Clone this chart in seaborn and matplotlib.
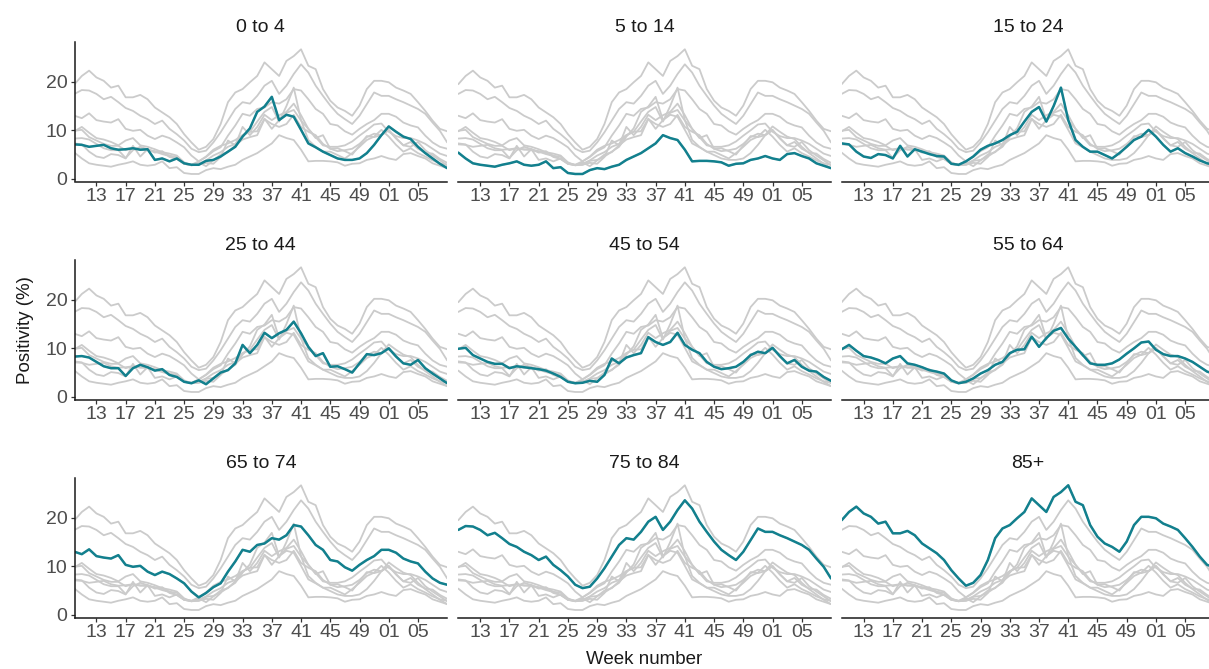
import matplotlib
matplotlib.use("Agg")
import matplotlib.pyplot as plt
import numpy as np
import pandas as pd
import seaborn as sns

# Continuous week index: 10..52 is the first year, 53 = week 01 of the next year, etc.
weeks = list(range(10, 62))
tick_weeks = [13, 17, 21, 25, 29, 33, 37, 41, 45, 49, 53, 57]
tick_labels = ["13", "17", "21", "25", "29", "33", "37", "41", "45", "49", "01", "05"]
y_ticks = [0, 10, 20]

age_groups = ["0 to 4", "5 to 14", "15 to 24",
              "25 to 44", "45 to 54", "55 to 64",
              "65 to 74", "75 to 84", "85+"]

pos_0_4 = [7.1, 7.0, 6.6, 6.8, 7.0, 6.3, 6.0, 6.1, 6.3, 6.0,
           6.1, 3.9, 4.2, 3.6, 4.2, 3.2, 2.9, 2.9, 3.7, 3.9,
           4.6, 5.6, 6.6, 8.7, 10.4, 13.8, 14.9, 16.9, 12.1, 13.2,
           12.8, 10.1, 7.3, 6.5, 5.6, 4.9, 4.2, 3.9, 3.9, 4.2,
           5.3, 7.0, 9.0, 10.8, 9.7, 8.7, 8.2, 6.6, 5.3, 4.2,
           3.1, 2.2]
pos_5_14 = [5.4, 4.2, 3.2, 2.9, 2.7, 2.5, 2.9, 3.2, 3.6, 2.9,
            2.7, 2.9, 3.6, 2.2, 2.4, 1.2, 1.0, 1.0, 1.8, 2.2,
            2.0, 2.5, 2.9, 3.9, 4.6, 5.3, 6.3, 7.3, 9.0, 8.4,
            8.0, 6.0, 3.6, 3.7, 3.7, 3.6, 3.4, 2.7, 3.1, 3.2,
            3.9, 4.2, 4.7, 4.2, 3.9, 5.1, 5.3, 4.7, 4.2, 3.2,
            2.7, 2.2]
pos_15_24 = [7.3, 7.1, 5.6, 4.6, 4.3, 5.1, 4.9, 4.2, 6.8, 4.6,
             6.1, 5.6, 5.1, 4.7, 4.6, 3.1, 2.9, 3.6, 4.6, 6.0,
             6.8, 7.3, 8.0, 9.0, 9.7, 11.8, 13.8, 14.8, 11.8, 15.0,
             18.8, 12.1, 8.0, 6.6, 5.6, 5.6, 4.9, 4.2, 5.3, 6.6,
             8.0, 8.7, 10.1, 8.7, 7.0, 5.6, 6.3, 5.3, 4.6, 3.8,
             3.2, 2.9]
pos_25_44 = [8.3, 8.4, 8.1, 7.2, 6.3, 5.9, 5.9, 4.3, 5.9, 6.6,
             6.1, 5.4, 5.7, 4.5, 4.1, 3.1, 2.8, 3.4, 2.6, 3.8,
             5.0, 5.5, 6.9, 10.7, 9.0, 10.7, 13.2, 12.1, 13.1, 13.8,
             15.5, 13.1, 10.3, 8.4, 9.0, 6.2, 6.3, 5.7, 5.0, 6.9,
             8.8, 8.6, 9.0, 10.0, 8.3, 6.9, 6.6, 7.6, 5.9, 4.8,
             3.8, 2.8]
pos_45_54 = [9.9, 10.1, 8.6, 7.9, 7.2, 6.8, 6.8, 5.9, 6.3, 6.1,
             5.9, 5.7, 5.4, 4.8, 4.1, 3.1, 2.8, 2.9, 3.3, 3.1,
             4.5, 7.9, 6.9, 8.1, 8.6, 9.0, 12.3, 11.3, 10.7, 11.3,
             13.2, 10.7, 9.7, 9.0, 7.2, 6.2, 5.7, 5.9, 6.2, 7.2,
             8.6, 9.3, 9.0, 10.1, 8.4, 6.9, 7.6, 6.2, 5.4, 5.2,
             4.1, 3.3]
pos_55_64 = [9.8, 10.7, 9.5, 8.4, 8.1, 7.6, 6.9, 7.9, 8.4, 6.9,
             6.6, 6.1, 5.5, 5.2, 4.8, 3.4, 2.8, 3.1, 3.8, 4.8,
             5.5, 6.6, 7.2, 9.0, 9.7, 9.8, 12.4, 10.3, 12.1, 13.6,
             14.2, 12.0, 10.3, 8.6, 6.9, 6.6, 6.6, 6.9, 7.7, 8.9,
             10.0, 11.2, 11.4, 9.7, 8.8, 8.4, 8.4, 7.9, 7.2, 6.2,
             5.2, 4.7]
pos_65_74 = [13.0, 12.5, 13.5, 12.1, 11.8, 11.6, 12.3, 10.3, 9.9, 10.1,
             8.9, 8.2, 8.9, 8.4, 7.5, 6.5, 4.8, 3.6, 4.5, 5.7,
             6.5, 8.9, 11.0, 13.4, 13.0, 14.4, 14.7, 15.8, 15.5, 16.4,
             18.5, 18.2, 16.4, 14.4, 13.4, 11.3, 11.0, 9.8, 9.1, 10.3,
             11.3, 12.1, 13.4, 13.4, 12.8, 11.6, 11.0, 10.6, 8.9, 7.5,
             6.6, 6.2]
pos_75_84 = [17.5, 18.3, 18.2, 17.5, 16.4, 16.9, 15.8, 14.6, 14.0, 13.0,
             12.3, 11.3, 12.0, 10.3, 9.2, 7.9, 6.2, 5.5, 5.8, 7.5,
             9.6, 12.0, 14.4, 15.8, 15.5, 17.1, 19.2, 20.2, 17.5, 19.2,
             21.6, 23.6, 21.9, 19.2, 17.1, 15.1, 13.4, 12.3, 11.3, 13.0,
             15.4, 17.8, 17.1, 17.1, 16.4, 15.8, 15.1, 14.4, 13.4, 11.6,
             9.9, 7.5]
pos_85_plus = [19.5, 21.2, 22.3, 20.9, 20.2, 18.8, 19.2, 16.8, 16.8, 17.3,
               16.4, 14.7, 13.7, 12.7, 11.3, 9.2, 7.5, 6.0, 6.6, 8.2,
               11.3, 15.8, 17.8, 18.5, 19.9, 21.2, 24.0, 22.6, 21.2, 24.3,
               25.3, 26.7, 23.3, 22.6, 18.5, 16.1, 14.7, 14.0, 13.0, 15.1,
               18.5, 20.2, 20.2, 19.9, 18.8, 18.2, 17.5, 15.8, 14.0, 12.0,
               10.3, 9.8]

series = [pos_0_4, pos_5_14, pos_15_24, pos_25_44, pos_45_54,
          pos_55_64, pos_65_74, pos_75_84, pos_85_plus]

df = pd.concat(
    [pd.DataFrame({"week": weeks, "positivity": vals, "age": grp})
     for grp, vals in zip(age_groups, series)],
    ignore_index=True,
)

TEAL = "#12808e"
GREY = "#cbcbcb"
TEXT = "#1a1a1a"
TICK_TEXT = "#4d4d4d"

sns.set_theme(style="ticks")
plt.rcParams["font.family"] = ["Liberation Sans", "DejaVu Sans"]

W, H = 1209, 669
fig = plt.figure(figsize=(W / 100, H / 100), dpi=100)

col_left = [74.5, 458.3, 841.7]
row_top = [42.0, 260.0, 478.0]
panel_w, panel_h = 372.7, 139.5

for i, grp in enumerate(age_groups):
    r, c = divmod(i, 3)
    ax = fig.add_axes([col_left[c] / W, 1 - (row_top[r] + panel_h) / H,
                       panel_w / W, panel_h / H])
    sns.lineplot(data=df, x="week", y="positivity", units="age",
                 estimator=None, color=GREY, linewidth=1.3, legend=False, ax=ax)
    sns.lineplot(data=df[df["age"] == grp], x="week", y="positivity",
                 color=TEAL, linewidth=1.8, legend=False, ax=ax)
    ax.set_xlim(10, 61)
    ax.set_ylim(-0.55, 28.2)
    ax.set_xticks(tick_weeks)
    ax.set_xticklabels(tick_labels)
    ax.set_xlabel("")
    ax.set_ylabel("")
    ax.set_title(grp, fontsize=14, color=TEXT, pad=7)
    for side in ("top", "right"):
        ax.spines[side].set_visible(False)
    ax.spines["bottom"].set_color(TEXT)
    ax.spines["bottom"].set_linewidth(1.1)
    ax.tick_params(axis="both", length=3, width=0.9, color="#333333",
                   labelsize=14, labelcolor=TICK_TEXT, pad=2)
    if c == 0:
        ax.set_yticks(y_ticks)
        ax.spines["left"].set_color(TEXT)
        ax.spines["left"].set_linewidth(1.1)
    else:
        ax.spines["left"].set_visible(False)
        ax.set_yticks([])

fig.text(25 / W, 1 - 330 / H, "Positivity (%)", rotation=90,
         ha="center", va="center", fontsize=13.5, color=TEXT)
fig.text(644 / W, 1 - 659 / H, "Week number",
         ha="center", va="center", fontsize=13.5, color=TEXT)

fig.savefig("out.png", dpi=100)
